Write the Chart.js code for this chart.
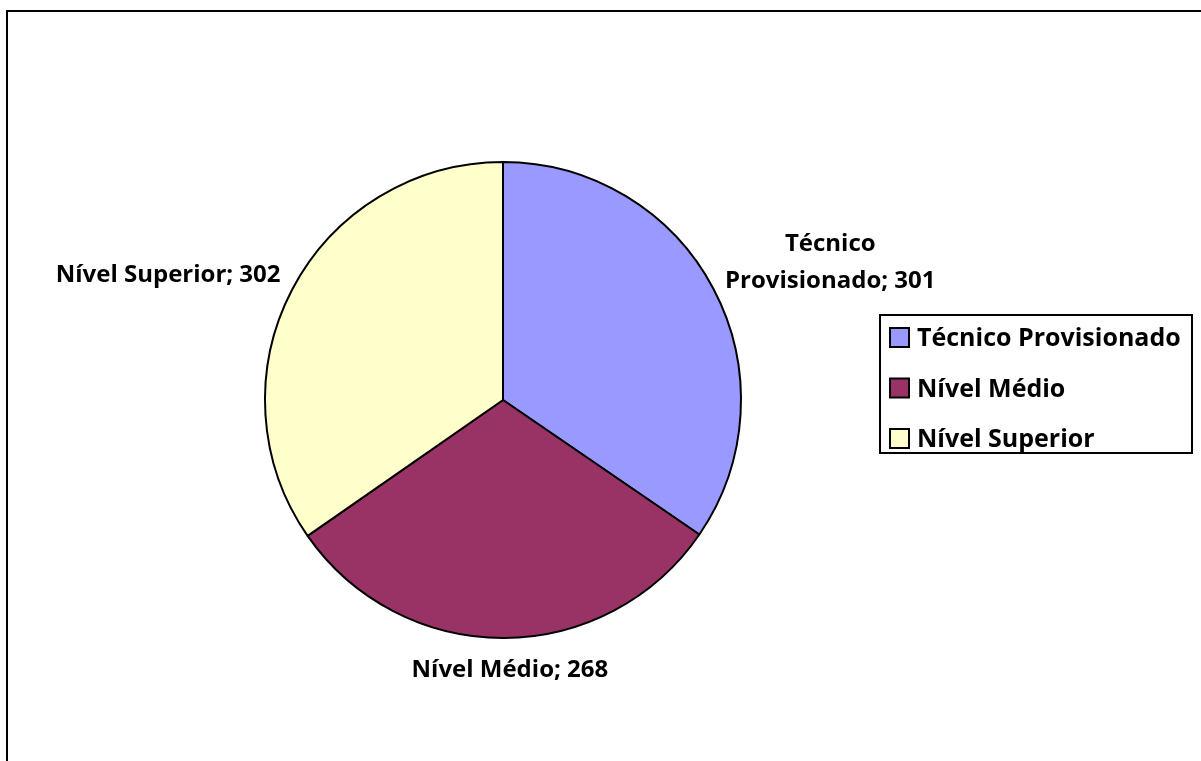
<!DOCTYPE html>
<html>
<head>
<meta charset="utf-8">
<script src="https://cdn.jsdelivr.net/npm/chart.js@4"></script>
<style>
	html, body { margin: 0; padding: 0; background: #fff; }
	#box { width: 1201px; height: 761px; }
</style>
</head>
<body>
<div id="box"><canvas id="grafico_pizza" width="1201" height="761"></canvas></div>
<script>
// Dados
const categorias = ['Técnico Provisionado', 'Nível Médio', 'Nível Superior'];
const valores = [301, 268, 302];
const cores = ['#9999FF', '#993366', '#FFFFCC'];

const FONTE = "'Open Sans', 'Noto Sans', sans-serif";

// moldura externa (só esquerda e topo aparecem)
const moldura = {
	id: 'moldura',
	afterDraw(chart) {
		const ctx = chart.ctx;
		ctx.save();
		ctx.strokeStyle = '#000';
		ctx.lineWidth = 2;
		ctx.strokeRect(7, 11, 1400, 1000);
		ctx.restore();
	},
};

// rótulos "categoria; valor" fora das fatias
const rotulos = {
	id: 'rotulos',
	afterDatasetsDraw(chart, args, opts) {
		const ctx = chart.ctx;
		const meta = chart.getDatasetMeta(0);
		ctx.save();
		ctx.font = `bold ${opts.size}px ${FONTE}`;
		ctx.fillStyle = '#000';
		ctx.textBaseline = 'middle';
		ctx.textAlign = 'center';
		const lh = opts.size * 1.55;
		meta.data.forEach((arc, i) => {
			const p = arc.getProps(['x', 'y', 'startAngle', 'endAngle', 'outerRadius'], true);
			const meio = (p.startAngle + p.endAngle) / 2;
			const r = p.outerRadius + opts.gap;
			const dx = Math.cos(meio);
			const dy = Math.sin(meio);
			const ax = p.x + dx * r;
			const ay = p.y + dy * r;
			const texto = `${categorias[i]}; ${valores[i]}`;
			let linhas = [texto];
			if (ctx.measureText(texto).width > opts.maxWidth) {
				const k = categorias[i].indexOf(' ');
				linhas = [categorias[i].slice(0, k), `${categorias[i].slice(k + 1)}; ${valores[i]}`];
			}
			const w = Math.max(...linhas.map((l) => ctx.measureText(l).width));
			let esq;
			if (dx > 0.3) esq = ax;
			else if (dx < -0.3) esq = ax - w;
			else esq = ax - w / 2 + 6;
			const topo = ay + dy * opts.size * 0.8 - (linhas.length - 1) * lh * 0.8;
			linhas.forEach((l, j) => {
				ctx.fillText(l, esq + w / 2, topo + j * lh);
			});
		});
		ctx.restore();
	},
};

// legenda com caixa à direita
const legendaCaixa = {
	id: 'legendaCaixa',
	afterDraw(chart, args, opts) {
		const ctx = chart.ctx;
		ctx.save();
		ctx.lineWidth = 2;
		ctx.strokeStyle = '#000';
		ctx.fillStyle = '#fff';
		ctx.fillRect(opts.x, opts.y, opts.w, opts.h);
		ctx.strokeRect(opts.x, opts.y, opts.w, opts.h);
		ctx.font = `bold ${opts.size}px ${FONTE}`;
		ctx.textBaseline = 'middle';
		ctx.textAlign = 'left';
		categorias.forEach((c, i) => {
			const cy = opts.y + 23 + i * opts.passo;
			ctx.fillStyle = cores[i];
			ctx.fillRect(opts.x + 10, cy - 10, 19, 19);
			ctx.strokeRect(opts.x + 10, cy - 10, 19, 19);
			ctx.fillStyle = '#000';
			ctx.fillText(c, opts.x + 37, cy + 1);
		});
		ctx.restore();
	},
};

new Chart(document.getElementById('grafico_pizza').getContext('2d'), {
	type: 'pie',
	data: {
		labels: categorias,
		datasets: [
			{
				data: valores,
				backgroundColor: cores,
				borderColor: '#000',
				borderWidth: 2,
				borderAlign: 'center',
			},
		],
	},
	options: {
		responsive: false,
		animation: false,
		layout: { padding: { left: 264, right: 459, top: 161, bottom: 122 } },
		plugins: {
			legend: { display: false },
			tooltip: { enabled: false },
			rotulos: { size: 24, gap: 13, maxWidth: 260 },
			legendaCaixa: { x: 880, y: 315, w: 312, h: 138, size: 25, passo: 50.5 },
		},
	},
	plugins: [moldura, rotulos, legendaCaixa],
});
</script>
</body>
</html>
